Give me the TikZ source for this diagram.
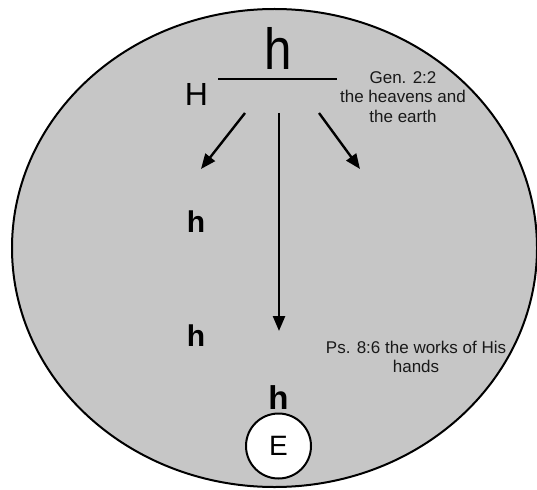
\documentclass[tikz,border=0pt]{standalone}
\usepackage{fontspec}
\setmainfont{Liberation Sans}
\usetikzlibrary{arrows.meta}
\definecolor{discgray}{RGB}{198,198,198}
\begin{document}
\begin{tikzpicture}[x=1pt,y=-1pt,
  conn/.style={line width=2.4pt,-{Triangle[length=15pt,width=12pt]}},
  bigh/.style={anchor=base,inner sep=0pt,font=\fontsize{58}{58}\selectfont},
  smallh/.style={anchor=base,inner sep=0pt,font=\bfseries\fontsize{30}{30}\selectfont},
  note/.style={align=center,inner sep=0pt,font=\fontsize{17}{19.5}\selectfont,text=black!90}]
\useasboundingbox (0,0) rectangle (537,489);
\fill[white] (0,0) rectangle (537,489);
\draw[fill=discgray,line width=2pt] (274.5,248) ellipse [x radius=262.5, y radius=239];
% top
\node[bigh] (toph) at (278,70) {\scalebox{0.85}[1]{h}};
\coordinate (barL) at (218,79);
\coordinate (barR) at (337,79);
\draw[line width=2.4pt] (barL) -- (barR);
\node[anchor=base,inner sep=0pt,font=\fontsize{32}{32}\selectfont] (bigH) at (196.5,106) {H};
\node[note] (gen) at (403,97) {Gen. 2:2\\the heavens and\\the earth};
% arrows
\coordinate (aLs) at (245,113);
\coordinate (aLe) at (201,169);
\coordinate (aCs) at (279,113);
\coordinate (aCe) at (279,331);
\coordinate (aRs) at (319,113);
\coordinate (aRe) at (360,169);
\draw[conn] (aLs) -- (aLe);
\draw[conn] (aCs) -- (aCe);
\draw[conn] (aRs) -- (aRe);
% left h's
\node[smallh] (h1) at (196,232) {h};
\node[smallh] (h2) at (196,346) {h};
\node[note] (ps) at (416,357) {Ps. 8:6 the works of His\\hands};
% bottom
\node[smallh,font=\bfseries\fontsize{33}{33}\selectfont] (h3) at (278.5,409) {h};
\node[circle,draw,fill=white,line width=2pt,minimum size=65pt,inner sep=0pt,font=\fontsize{28}{28}\selectfont] (E) at (278.5,446) {E};
\end{tikzpicture}
\end{document}
